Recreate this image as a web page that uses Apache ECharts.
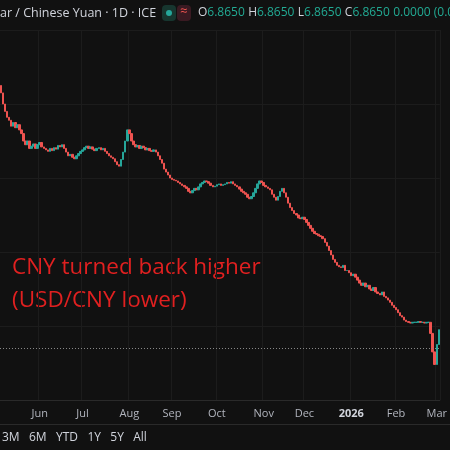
<!DOCTYPE html>
<html><head><meta charset="utf-8">
<script src="https://cdn.jsdelivr.net/npm/echarts@6/dist/echarts.min.js"></script>
<style>html,body{margin:0;background:#111111}#c{width:450px;height:450px}</style>
</head><body><div id="c"></div>
<script>
var myChart = echarts.init(document.getElementById("c"));

// daily closes (first trading day 2025-05-06)
const closes = [
  7.215, 7.200, 7.190, 7.182, 7.178, 7.170, 7.175, 7.168, 7.172, 7.165,
  7.160, 7.150, 7.145, 7.150, 7.140, 7.143, 7.146, 7.140, 7.145, 7.148,
  7.142, 7.140, 7.138, 7.136, 7.140, 7.137, 7.141, 7.139, 7.144, 7.142,
  7.145, 7.140, 7.135, 7.130, 7.132, 7.128, 7.126, 7.130, 7.133, 7.136,
  7.138, 7.141, 7.143, 7.140, 7.142, 7.139, 7.137, 7.140, 7.141, 7.138,
  7.140, 7.136, 7.133, 7.130, 7.128, 7.126, 7.122, 7.118, 7.116, 7.125,
  7.135, 7.150, 7.165, 7.160, 7.150, 7.145, 7.142, 7.144, 7.140, 7.143,
  7.141, 7.138, 7.140, 7.137, 7.136, 7.138, 7.135, 7.130, 7.125, 7.120,
  7.112, 7.108, 7.104, 7.100, 7.098, 7.097, 7.096, 7.094, 7.092, 7.090,
  7.088, 7.086, 7.082, 7.080, 7.083, 7.086, 7.084, 7.088, 7.092, 7.094,
  7.096, 7.095, 7.093, 7.090, 7.088, 7.089, 7.091, 7.092, 7.090, 7.091,
  7.092, 7.094, 7.093, 7.095, 7.092, 7.090, 7.088, 7.085, 7.082, 7.080,
  7.078, 7.074, 7.072, 7.075, 7.080, 7.086, 7.092, 7.096, 7.094, 7.090,
  7.088, 7.086, 7.084, 7.078, 7.074, 7.070, 7.075, 7.082, 7.086, 7.080,
  7.074, 7.066, 7.060, 7.056, 7.052, 7.050, 7.046, 7.045, 7.047, 7.044,
  7.040, 7.036, 7.032, 7.028, 7.025, 7.024, 7.022, 7.021, 7.018, 7.013,
  7.008, 7.002, 6.996, 6.990, 6.986, 6.982, 6.980, 6.979, 6.982, 6.975,
  6.975, 6.972, 6.968, 6.970, 6.966, 6.962, 6.958, 6.955, 6.958, 6.953,
  6.955, 6.950, 6.948, 6.952, 6.946, 6.944, 6.942, 6.946, 6.940, 6.938,
  6.935, 6.932, 6.928, 6.925, 6.922, 6.918, 6.914, 6.912, 6.908, 6.906,
  6.905, 6.904, 6.905, 6.905, 6.905, 6.906, 6.905, 6.905, 6.904, 6.905,
  6.905, 6.890, 6.865, 6.848, 6.875, 6.895
];
const firstOpen = 7.225;
const lastPrice = 6.865;
const monthNames = ["Jan", "Feb", "Mar", "Apr", "May", "Jun", "Jul", "Aug", "Sep", "Oct", "Nov", "Dec"];

// trading calendar (weekdays)
const dates = [];
let d = new Date(Date.UTC(2025, 4, 6));
while (dates.length < closes.length) {
  const wd = d.getUTCDay();
  if (wd !== 0 && wd !== 6) dates.push(new Date(d));
  d.setUTCDate(d.getUTCDate() + 1);
}
const cats = dates.map(x => x.toISOString().slice(0, 10));
const monthStart = dates.map((x, i) => i > 0 && x.getUTCMonth() !== dates[i - 1].getUTCMonth());

const candles = closes.map((c, i) => {
  const o = i === 0 ? firstOpen : closes[i - 1];
  return [o, c, Math.min(o, c), Math.max(o, c)];
});

const option = {
  backgroundColor: "#111111",
  animation: false,
  grid: { left: 0, right: 4, top: 30, bottom: 50 },
  xAxis: {
    type: "category",
    data: cats,
    axisLine: { lineStyle: { color: "#2a2a2a" } },
    axisTick: { show: false },
    axisLabel: {
      interval: (i) => monthStart[i],
      color: "#b2b5be",
      fontFamily: "Open Sans",
      fontSize: 11,
      margin: 8,
      formatter: (v) => {
        const m = +v.slice(5, 7) - 1;
        return m === 0 ? "{b|" + v.slice(0, 4) + "}" : monthNames[m];
      },
      rich: { b: { fontWeight: "bold", color: "#d1d4dc", fontSize: 11 } },
    },
    splitLine: { show: true, interval: (i) => monthStart[i], lineStyle: { color: "#1c1c1c" } },
  },
  yAxis: {
    type: "value",
    min: 6.8,
    max: 7.3,
    interval: 0.1,
    axisLabel: { show: false },
    axisLine: { show: false },
    splitLine: { lineStyle: { color: "#1c1c1c" } },
  },
  series: [
    {
      type: "candlestick",
      data: candles,
      barWidth: 2,
      itemStyle: { color: "#26a69a", color0: "#ef5350", borderColor: "#26a69a", borderColor0: "#ef5350", borderWidth: 1 },
      markLine: {
        symbol: "none",
        silent: true,
        label: { show: false },
        lineStyle: { color: "#888", type: [1, 2], width: 1 },
        data: [{ yAxis: lastPrice }],
      },
    },
  ],
  graphic: [
    { type: "text", left: 0, top: 7, style: { text: "ar / Chinese Yuan · 1D · ICE", fill: "#d1d4dc", font: "12.5px 'Open Sans'" } },
    { type: "rect", shape: { x: 162, y: 5, width: 14, height: 16, r: 4 }, style: { fill: "#17362f" } },
    { type: "circle", shape: { cx: 169, cy: 13, r: 3 }, style: { fill: "#26a69a" } },
    { type: "rect", shape: { x: 177, y: 5, width: 14, height: 16, r: 4 }, style: { fill: "#3a1a22" } },
    { type: "text", left: 180, top: 5, style: { text: "≈", fill: "#ef5350", font: "13px 'Open Sans'" } },
    {
      type: "text", left: 198, top: 7,
      style: {
        text: "{k|O}{v|6.8650} {k|H}{v|6.8650} {k|L}{v|6.8650} {k|C}{v|6.8650} {v|0.0000 (0.00%)}",
        rich: {
          k: { fill: "#d1d4dc", font: "12px 'Open Sans'" },
          v: { fill: "#22ab94", font: "12px 'Open Sans'" },
        },
      },
    },
    { type: "text", left: 12, top: 256, style: { text: "CNY turned back higher", fill: "#e02020", font: "22.5px 'Open Sans'" } },
    { type: "text", left: 12, top: 289, style: { text: "(USD/CNY lower)", fill: "#e02020", font: "22.5px 'Open Sans'" } },
    { type: "rect", shape: { x: 0, y: 424, width: 450, height: 1 }, style: { fill: "#2a2a2a" } },
    {
      type: "text", left: 2, top: 432,
      style: { text: "3M   6M   YTD   1Y   5Y   All", fill: "#d1d4dc", font: "12px 'Open Sans'" },
    },
  ],
};
myChart.setOption(option);
</script></body></html>
